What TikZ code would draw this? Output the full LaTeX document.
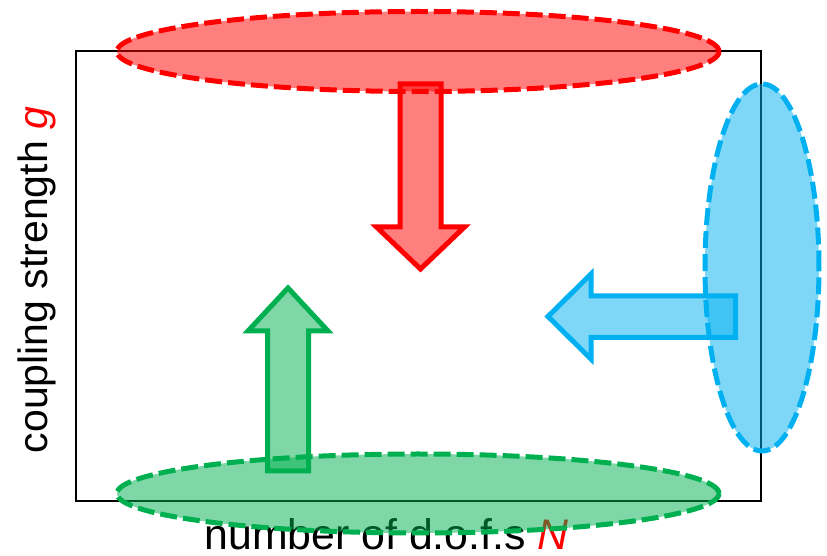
\documentclass[tikz,border=0pt]{standalone}
\usepackage{fontspec}
\setmainfont{Liberation Sans}
\usetikzlibrary{shapes.geometric}
\definecolor{cblue}{RGB}{0,176,240}
\definecolor{cgreen}{RGB}{0,176,80}
\tikzset{
  region/.style={ellipse, dash pattern=on 8.5pt off 3pt, line width=2.5pt,
    fill opacity=0.5, inner sep=0pt, outer sep=0pt},
  flow/.style={line width=2.5pt, fill opacity=0.5, line join=miter},
  axislabel/.style={font=\fontsize{20.5pt}{24pt}\selectfont, inner sep=0pt, anchor=base},
}
\begin{document}
\begin{tikzpicture}[x=0.5pt,y=-0.5pt]
  \useasboundingbox (0,0) rectangle (827,556);
  % frame
  \draw[line width=1pt] (76,51) rectangle (761,501.5);
  \node[axislabel, font=\fontsize{21.4pt}{25pt}\selectfont] (xlabel) at (386.5,550) {number of d.o.f.s \textcolor{red}{\itshape N}};
  \node[axislabel, rotate=90] (ylabel) at (47,280) {coupling strength \textcolor{red}{\itshape g}};
  % regions
  \node[region, draw=red, fill=red, minimum width=301pt, minimum height=40pt] (strong) at (418,51.5) {};
  \node[region, draw=cgreen, fill=cgreen, minimum width=301pt, minimum height=39.5pt] (weak) at (418,493.5) {};
  \node[region, draw=cblue, fill=cblue, minimum width=57pt, minimum height=183.5pt] (large) at (762,267.5) {};
  % arrows
  \draw[flow, draw=red, fill=red] (400,84) -- (441,84) -- (441,227) -- (464.5,227)
    -- (420.5,269) -- (376.5,227) -- (400,227) -- cycle;
  \draw[flow, draw=cgreen, fill=cgreen] (267.5,471) -- (308.5,471) -- (308.5,331) -- (328,331)
    -- (288,288) -- (248,331) -- (267.5,331) -- cycle;
  \draw[flow, draw=cblue, fill=cblue] (735.5,296) -- (735.5,337.5) -- (591,337.5) -- (591,359)
    -- (548,316.5) -- (591,274) -- (591,296) -- cycle;
\end{tikzpicture}
\end{document}
